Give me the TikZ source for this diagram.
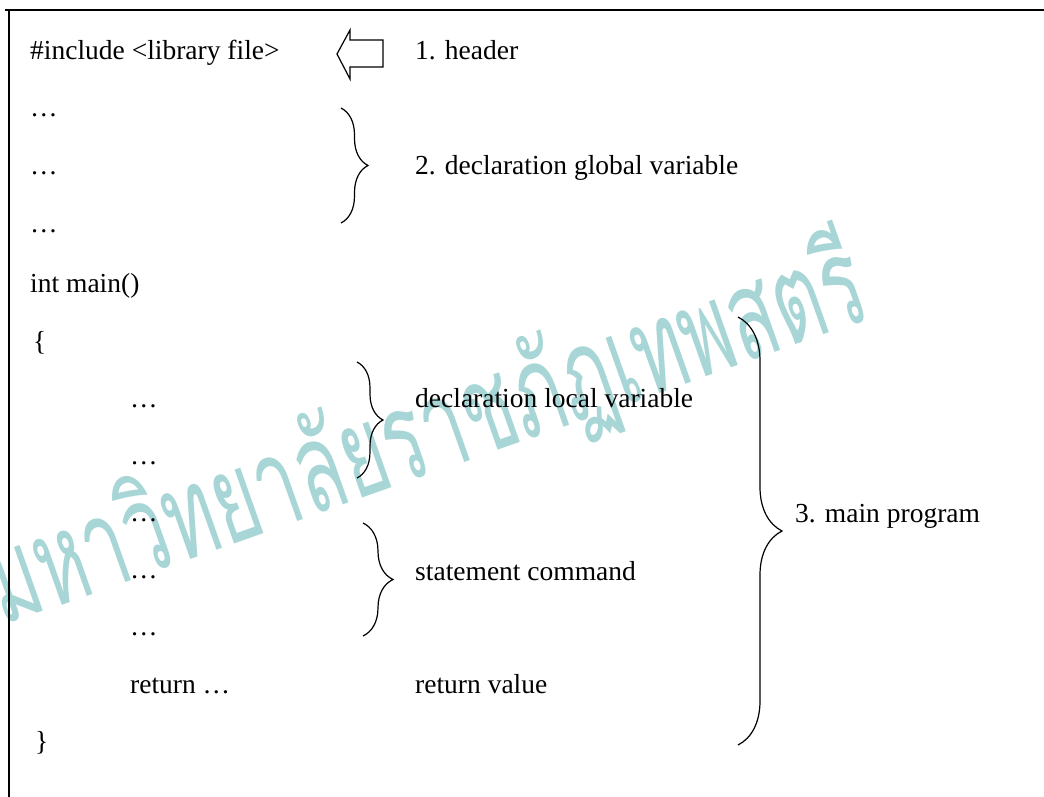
\documentclass[tikz,border=0pt]{standalone}
\usepackage{fontspec}
\setmainfont{Liberation Serif}
\newfontfamily\thaifont[Script=Thai]{Loma}
\usetikzlibrary{decorations.pathreplacing}
\definecolor{wmark}{RGB}{168,214,214}

\begin{document}
\begin{tikzpicture}[x=1pt,y=-1pt,
    txt/.style={anchor=base west,inner sep=0pt,font=\fontsize{27.5}{32}\selectfont},
    curly/.style={decorate,decoration={brace,amplitude=#1},line width=1.2pt}]
\useasboundingbox (0,0) rectangle (1044,797);
% watermark
\node [rotate=19.5,anchor=base west,inner sep=0pt,text=wmark,
       font=\thaifont\fontsize{100}{100}\selectfont] (wm) at (2,626)
    {\scalebox{0.77}[1.25]{มหาวิทยาลัยราชภัฏเทพสตรี}};
% frame
\draw [line width=1.6pt] (5,10) -- (1044,10);
\draw [line width=1.6pt] (9,10) -- (9,797);
% left column
\draw
    (30,60) node [txt] (inc) {\#include <library file>}
    +(0,57) node [txt] (d1) {\dots}
    +(0,114) node [txt] (d2) {\dots}
    +(0,172) node [txt] (d3) {\dots}
    +(0,232) node [txt] (mn) {int main()}
    +(3,290) node [txt] (ob) {\{}
    +(100,347) node [txt] (i1) {\dots}
    +(100,404) node [txt] (i2) {\dots}
    +(100,461) node [txt] (i3) {\dots}
    +(100,518) node [txt] (i4) {\dots}
    +(100,575) node [txt] (i5) {\dots}
    +(100,633) node [txt] (ret) {return \dots}
    +(5,690) node [txt] (cb) {\}};
% right column
\draw
    (415,60) node [txt] (hdr) {1. header}
    +(0,115) node [txt] (glob) {2. declaration global variable}
    +(0,347) node [txt] (loc) {declaration local variable}
    +(0,520) node [txt] (stm) {statement command}
    +(0,633) node [txt] (rv) {return value}
    +(380,462) node [txt] (mp) {3. main program};
% hollow arrow
\draw [line width=1.2pt] (337,54) -- (350,30) -- (350,40) -- (383,40)
    -- (383,67) -- (350,67) -- (350,79) -- cycle;
% braces
\coordinate (b1t) at (341,108); \coordinate (b1b) at (341,223);
\coordinate (b2t) at (357,362); \coordinate (b2b) at (357,478);
\coordinate (b3t) at (363,523); \coordinate (b3b) at (363,636);
\coordinate (b4t) at (738,317); \coordinate (b4b) at (738,745);
\draw [curly=27pt] (b1t) -- (b1b);
\draw [curly=26pt] (b2t) -- (b2b);
\draw [curly=30pt] (b3t) -- (b3b);
\draw [curly=44pt] (b4t) -- (b4b);
\end{tikzpicture}
\end{document}
